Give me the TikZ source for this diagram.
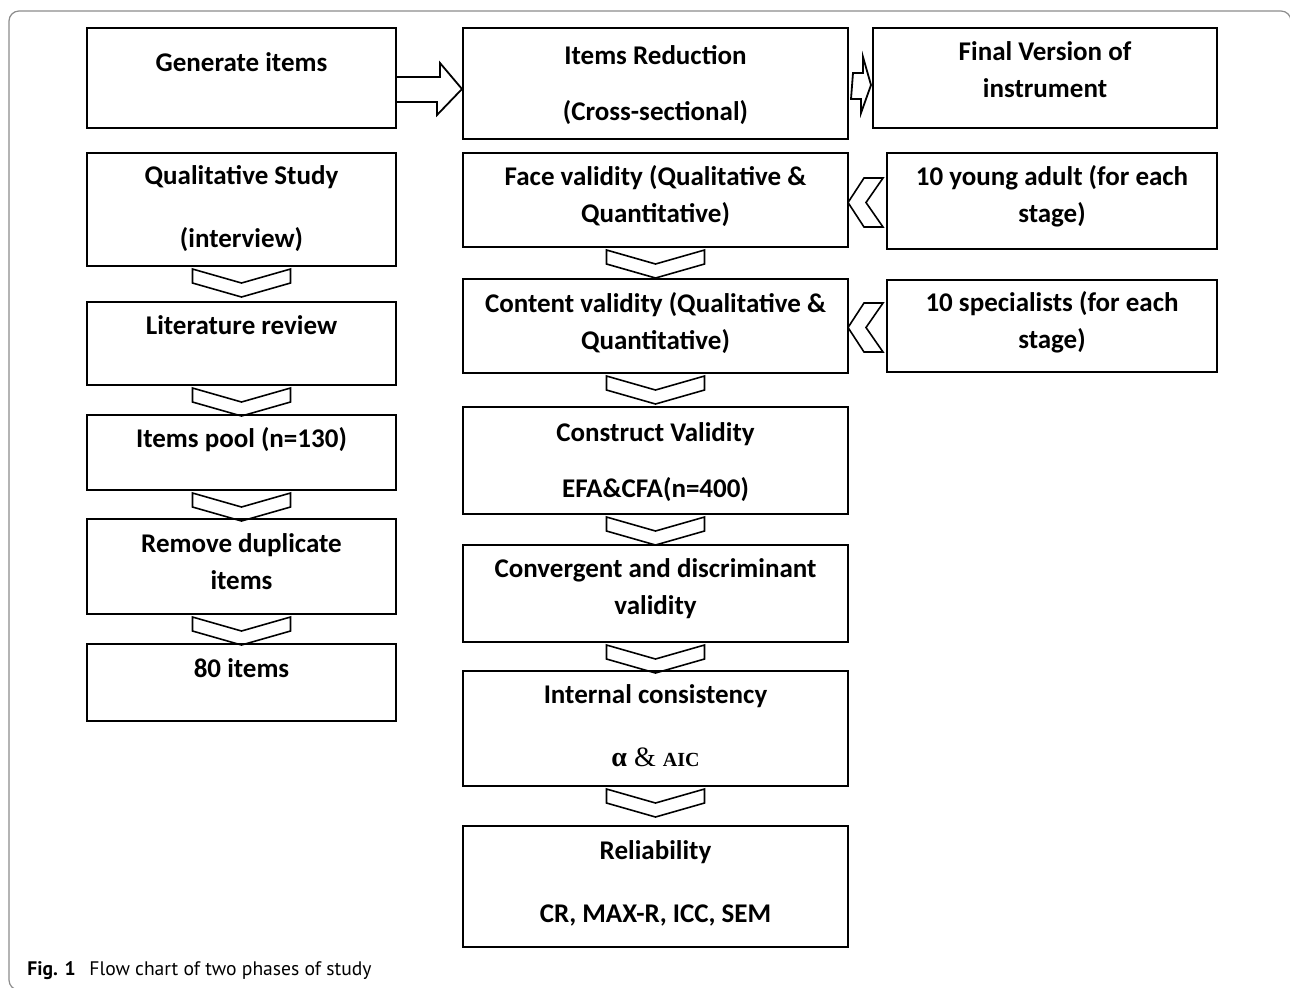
\documentclass[tikz,border=0pt]{standalone}
\usepackage{fontspec}
\setmainfont{Carlito}
\newfontfamily\capfont{PT Sans}
\newfontfamily\grfont{Liberation Serif}
\usepackage{tikz}
\usetikzlibrary{calc}
\usetikzlibrary{positioning}

\tikzset{
	box/.style={draw, line width=1pt, rectangle, inner sep=0pt},
	lbl/.style={font=\bfseries\fontsize{13.5}{18.5}\selectfont, align=center, anchor=base, inner sep=0pt},
	chev/.style={draw, line width=0.8pt, line join=miter},
	hollow/.style={draw, line width=0.9pt, line join=miter},
	outline/.style={draw=black!45, line width=0.6pt, rounded corners=5pt}
}
\newcommand{\chevdown}[1]{\draw[chev] ($(#1.south)+(-49,2)$) -- ++(0,14) -- ++(49,14) -- ++(49,-14) -- ++(0,-14) -- ++(-49,14) -- cycle;}
\newcommand{\chevleft}[1]{\draw[chev] ($(#1.west)+(-3,-23)$) -- ++(-19,0) -- ++(-16,24.5) -- ++(16,24.5) -- ++(19,0) -- ++(-17,-24.5) -- cycle;}

\begin{document}
\begin{tikzpicture}[x=0.5pt, y=-0.5pt]
			\useasboundingbox (0,0) rectangle (1290,987);
			\draw[outline] (40,990)--(9,990)--(9,11)--(1291,11)--(1291,40);
			% left column
			\node[box, minimum width=154.5pt, minimum height=50pt] (gen) at (241.5,78) {};
			\node[box, minimum width=154.5pt, minimum height=56.5pt] (qual) at (241.5,209.5) {};
			\node[box, minimum width=154.5pt, minimum height=41.5pt] (lit) at (241.5,343.5) {};
			\node[box, minimum width=154.5pt, minimum height=37.5pt] (pool) at (241.5,452.5) {};
			\node[box, minimum width=154.5pt, minimum height=47.5pt] (dup) at (241.5,566.5) {};
			\node[box, minimum width=154.5pt, minimum height=38.5pt] (eighty) at (241.5,682.5) {};
			% labels sit on the baseline of their last line
			\node[lbl] (gen-t) at ($(gen.north)+(0,44)$) {Generate items};
			\node[lbl] (qual-t) at ($(qual.north)+(0,95)$) {Qualitative Study\\[13pt](interview)};
			\node[lbl] (lit-t) at ($(lit.north)+(0,33)$) {Literature review};
			\node[lbl] (pool-t) at ($(pool.north)+(0,33)$) {Items pool (n=130)};
			\node[lbl] (dup-t) at ($(dup.north)+(0,71)$) {Remove duplicate\\items};
			\node[lbl] (eighty-t) at ($(eighty.north)+(0,34)$) {80 items};
			% middle column
			\node[box, minimum width=192.5pt, minimum height=55.5pt] (red) at (655.5,83.5) {};
			\node[box, minimum width=192.5pt, minimum height=47pt] (face) at (655.5,200) {};
			\node[box, minimum width=192.5pt, minimum height=47pt] (cont) at (655.5,326) {};
			\node[box, minimum width=192.5pt, minimum height=53.5pt] (cons) at (655.5,460.5) {};
			\node[box, minimum width=192.5pt, minimum height=48.5pt] (conv) at (655.5,593.5) {};
			\node[box, minimum width=192.5pt, minimum height=57.5pt] (intc) at (655.5,728.5) {};
			\node[box, minimum width=192.5pt, minimum height=60.5pt] (rel) at (655.5,886.5) {};
			\node[lbl] (red-t) at ($(red.north)+(0,93)$) {Items Reduction\\[9.5pt](Cross-sectional)};
			\node[lbl] (face-t) at ($(face.north)+(0,70)$) {Face validity (Qualitative \&\\Quantitative)};
			\node[lbl] (cont-t) at ($(cont.north)+(0,71)$) {Content validity (Qualitative \&\\Quantitative)};
			\node[lbl] (cons-t) at ($(cons.north)+(0,91)$) {Construct Validity\\[9.5pt]EFA\&CFA(n=400)};
			\node[lbl] (conv-t) at ($(conv.north)+(0,70)$) {Convergent and discriminant\\validity};
			\node[lbl] (intc-t) at ($(intc.north)+(0,96)$) {Internal consistency\\[13pt]{\grfont\fontsize{14}{18.5}\selectfont α \mdseries\& \bfseries\fontsize{10}{18.5}\selectfont AIC}};
			\node[lbl] (rel-t) at ($(rel.north)+(0,97)$) {Reliability\\[13pt]CR, MAX-R, ICC, SEM};
			% right column
			\node[box, minimum width=172pt, minimum height=50pt] (fin) at (1045,78) {};
			\node[box, minimum width=165pt, minimum height=48pt] (young) at (1052,201) {};
			\node[box, minimum width=165pt, minimum height=46pt] (spec) at (1052,326) {};
			\node[lbl] (fin-t) at ($(fin.north)+(0,70)$) {Final Version of\\instrument};
			\node[lbl] (young-t) at ($(young.north)+(0,70)$) {10 young adult (for each\\stage)};
			\node[lbl] (spec-t) at ($(spec.north)+(0,69)$) {10 specialists (for each\\stage)};
			% block arrows
			\draw[hollow] ($(gen.east)+(0,-1)$) -- ++(43,0) -- ++(0,-14) -- ($(red.west)+(0,5.5)$) -- ++(-25,26) -- ++(0,-13) -- ($(gen.east)+(0,24)$);
			\draw[hollow] ($(red.east)+(4,-10.5)$) -- ++(10,0) -- ++(0,-16) -- ($(fin.west)+(-1,7)$) -- ++(-10,28) -- ++(0,-14) -- ++(-10,0) -- cycle;
			\chevdown{qual}
			\chevdown{lit}
			\chevdown{pool}
			\chevdown{dup}
			\chevdown{face}
			\chevdown{cont}
			\chevdown{cons}
			\chevdown{conv}
			\chevdown{intc}
			\chevleft{young}
			\chevleft{spec}
			% caption
			\node[anchor=base west, inner sep=0pt, font=\capfont\fontsize{9.8}{11}\selectfont] (cap) at (27,975) {\textbf{Fig. 1}\hspace{0.7em}Flow chart of two phases of study};
		\end{tikzpicture}
\end{document}
